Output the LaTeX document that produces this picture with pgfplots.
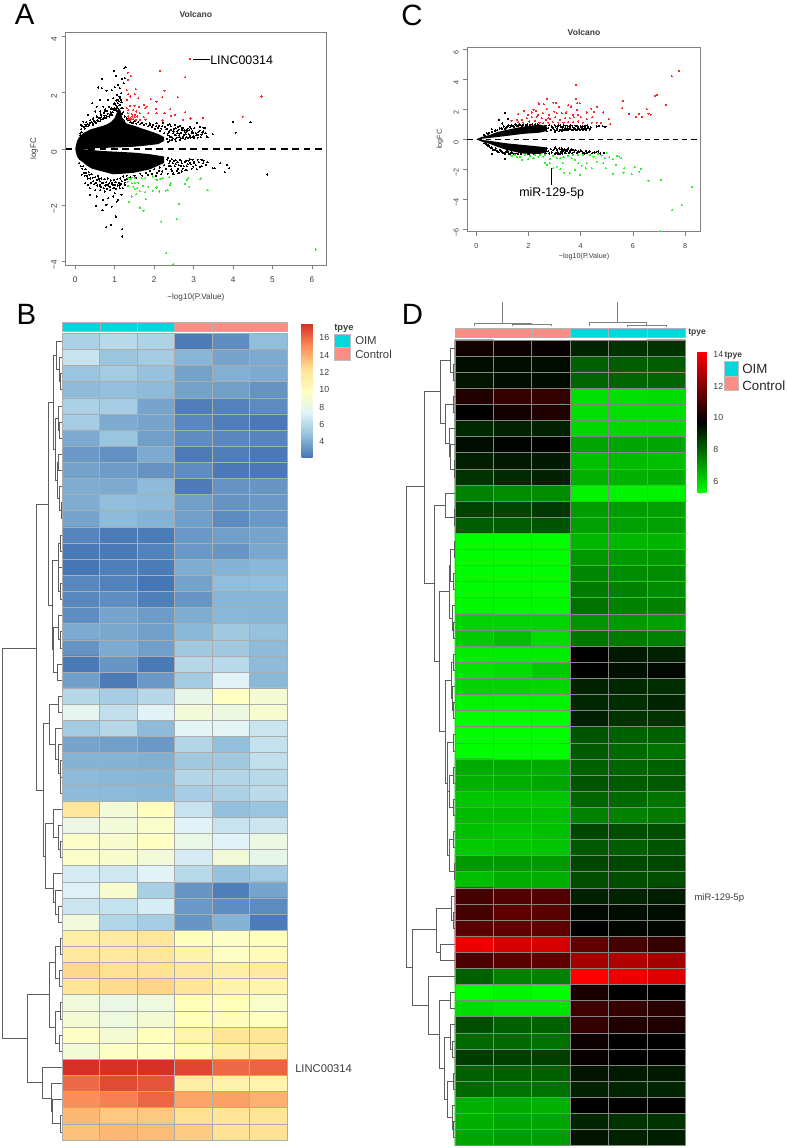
\documentclass[border=0pt]{standalone}
\usepackage{pgfplots}
\usepackage{pgfplotstable}
\pgfplotsset{compat=1.18}
\usepackage{fontspec}
\setmainfont{Liberation Sans}
\newcommand{\fs}[1]{\fontsize{#1}{#1}\selectfont}
\definecolor{oimc}{HTML}{00D8DE}
\definecolor{ctrlc}{HTML}{FA8D84}
\definecolor{framec}{HTML}{808080}
\definecolor{txtc}{HTML}{3C3C3C}
\definecolor{ptred}{HTML}{F52A2A}
\definecolor{ptgreen}{HTML}{2EF02E}
\definecolor{dendc}{HTML}{5E5E5E}
% cell borders of the two heatmaps: rows, then columns, as one line each
\pgfplotstableread[row sep=\\]{x y\\
0.5 0.5\\6.5 0.5\\6.5 1.5\\0.5 1.5\\0.5 2.5\\6.5 2.5\\6.5 3.5\\0.5 3.5\\0.5 4.5\\6.5 4.5\\6.5 5.5\\0.5 5.5\\
0.5 6.5\\6.5 6.5\\6.5 7.5\\0.5 7.5\\0.5 8.5\\6.5 8.5\\6.5 9.5\\0.5 9.5\\0.5 10.5\\6.5 10.5\\6.5 11.5\\0.5 11.5\\
0.5 12.5\\6.5 12.5\\6.5 13.5\\0.5 13.5\\0.5 14.5\\6.5 14.5\\6.5 15.5\\0.5 15.5\\0.5 16.5\\6.5 16.5\\6.5 17.5\\0.5 17.5\\
0.5 18.5\\6.5 18.5\\6.5 19.5\\0.5 19.5\\0.5 20.5\\6.5 20.5\\6.5 21.5\\0.5 21.5\\0.5 22.5\\6.5 22.5\\6.5 23.5\\0.5 23.5\\
0.5 24.5\\6.5 24.5\\6.5 25.5\\0.5 25.5\\0.5 26.5\\6.5 26.5\\6.5 27.5\\0.5 27.5\\0.5 28.5\\6.5 28.5\\6.5 29.5\\0.5 29.5\\
0.5 30.5\\6.5 30.5\\6.5 31.5\\0.5 31.5\\0.5 32.5\\6.5 32.5\\6.5 33.5\\0.5 33.5\\0.5 34.5\\6.5 34.5\\6.5 35.5\\0.5 35.5\\
0.5 36.5\\6.5 36.5\\6.5 37.5\\0.5 37.5\\0.5 38.5\\6.5 38.5\\6.5 39.5\\0.5 39.5\\0.5 40.5\\6.5 40.5\\6.5 41.5\\0.5 41.5\\
0.5 42.5\\6.5 42.5\\6.5 43.5\\0.5 43.5\\0.5 44.5\\6.5 44.5\\6.5 45.5\\0.5 45.5\\0.5 46.5\\6.5 46.5\\6.5 47.5\\0.5 47.5\\
0.5 48.5\\6.5 48.5\\6.5 49.5\\0.5 49.5\\0.5 50.5\\6.5 50.5\\
6.5 0.5\\5.5 0.5\\5.5 50.5\\4.5 50.5\\4.5 0.5\\3.5 0.5\\3.5 50.5\\2.5 50.5\\2.5 0.5\\1.5 0.5\\1.5 50.5\\0.5 50.5\\0.5 0.5\\
}\gridtab
\pgfplotsset{
  colormap={rdylbu}{rgb255=(69,117,180) rgb255=(145,191,219) rgb255=(224,243,248) rgb255=(255,255,191) rgb255=(254,224,144) rgb255=(252,141,89) rgb255=(215,48,39)},
  colormap={gbr}{rgb255=(0,255,0) rgb255=(0,0,0) rgb255=(255,0,0)},
  volcano/.style={
    scale only axis, axis line style={framec,line width=0.7pt},
    tick style={framec,line width=0.5pt}, tick align=outside, major tick length=3pt,
    xtick pos=bottom, ytick pos=left,
    /pgf/number format/assume math mode=true,
    tick label style={font=\fs{6.2},text=txtc},
    xticklabel style={yshift=-2.5pt},
    yticklabel style={rotate=90,anchor=south,xshift=-2.5pt},
    title={\bfseries Volcano}, title style={font=\fs{6.4},text=txtc,anchor=center,yshift=-6pt},
    xlabel={−log10(P.Value)}, ylabel={logFC},
    xlabel style={font=\fs{6.1},text=txtc,anchor=center},
    ylabel style={font=\fs{6.1},text=txtc,anchor=center},
  },
  pts/.style={only marks,mark=*,mark size=0.42pt,color=#1,mark options={solid,fill=#1,draw=#1,line width=0pt}},
  heat/.style={
    scale only axis, enlargelimits=false, clip=false,
    y dir=reverse, xmin=0.5, xmax=6.5, ymin=0.5, ymax=50.5,
    xtick=\empty, ytick=\empty, axis line style={line width=0.5pt,#1},
  },
  bar/.style={
    colorbar style={
      scale only axis, anchor=north west, major tick length=0pt,
      axis line style={draw=none},
      tick label style={font=\fs{6.6},text=txtc},
      /pgf/number format/assume math mode=true,
      yticklabel style={xshift=1.5pt},
      #1
    }
  },
  dendro/.style={
    scale only axis, hide axis, y dir=reverse, ymin=0.5, ymax=50.5, clip=false,
    unbounded coords=jump,
  },
}
\begin{document}
\begin{tikzpicture}
\path[use as bounding box] (0,0) rectangle (590.25pt,861pt);

% ---- A volcano
\begin{axis}[volcano, at={(65.7*0.75pt,{(1148-265)*0.75pt})},
  width={260.3*0.75pt}, height={232.7*0.75pt},
  xmin=-0.243, xmax=6.355, ymin=-4.12, ymax=4.14,
  xtick={0,1,...,6}, ytick={-4,-2,0,2,4}, yticklabels={−4,−2,0,2,4},
  title style={at={(axis description cs:0.5,1.0786)}},
  xlabel style={at={(axis description cs:0.5,-0.1375)}},
  ylabel style={at={(axis description cs:-0.1218,0.5)}},
]
\addplot[fill=black,draw=none] coordinates {(0,0)(0.02,0.15)(0.05,0.3)(0.1,0.42)(0.2,0.56)(0.3,0.63)(0.4,0.7)(0.5,0.74)(0.6,0.78)(0.7,0.82)(0.8,0.87)(0.9,0.95)(1.0,1.1)(1.1,1.45)(1.15,1.35)(1.2,1.05)(1.3,0.9)(1.5,0.82)(1.7,0.72)(1.9,0.63)(2.1,0.53)(2.25,0.42)(2.25,0.28)(2.1,0.17)(1.8,0.12)(1.5,0.08)(1.2,0.06)(0.8,0.04)(0.4,0.02)(0.3,0)} --cycle;
\addplot[fill=black,draw=none] coordinates {(0,0)(0.02,-0.15)(0.05,-0.28)(0.1,-0.38)(0.2,-0.48)(0.3,-0.6)(0.42,-0.7)(0.63,-0.78)(0.96,-0.9)(1.2,-0.88)(1.47,-0.85)(1.9,-0.72)(2.25,-0.5)(2.25,-0.27)(1.9,-0.19)(1.47,-0.13)(0.63,-0.07)(0.3,-0.02)} --cycle;
\addplot[pts=black] coordinates {
(0.99,2.77)(1.24,2.86)(1.28,2.9)(0.68,2.49)(1.19,2.49)(1.03,2.59)(0.58,2.18)(0.67,2.15)(1.26,2.51)(1.23,2.33)(1.09,2.27)(1.0,2.19)
(1.13,2.15)(1.16,1.98)(1.06,1.92)(0.92,2.09)(0.79,2.07)(0.43,1.62)(0.63,1.74)(0.54,1.5)(0.71,1.5)(0.84,1.74)(0.96,1.8)(1.0,1.62)
(1.09,1.74)(1.15,1.74)(1.05,1.5)(1.13,1.56)(1.0,1.38)(0.92,1.44)(0.75,1.33)(0.63,1.33)(0.5,1.33)(0.33,1.21)(0.2,0.97)(0.14,0.85)
(4.0,0.96)(4.44,0.95)(4.07,0.58)(3.48,0.52)(3.29,0.73)(3.09,0.93)(3.16,0.79)(2.91,0.79)(3.02,0.73)(3.24,0.62)(3.33,0.44)(3.12,0.5)
(2.95,0.58)(2.82,0.67)(2.74,0.73)(2.65,0.82)(2.53,0.85)(2.4,0.88)(2.23,0.93)(2.06,0.91)(1.89,0.91)
(0.12,0.55)(0.15,0.7)(0.18,0.8)(0.22,0.78)(0.26,0.85)(0.3,0.88)(0.33,0.8)(0.37,0.92)(0.42,0.95)(0.45,0.85)(0.48,1.0)(0.52,0.92)
(0.56,1.02)(0.6,1.1)(0.63,0.98)(0.66,1.12)(0.7,1.05)(0.74,1.18)(0.78,1.1)(0.82,1.25)(0.86,1.15)(0.9,1.3)(0.93,1.22)(0.96,1.4)
(1.0,1.45)(1.03,1.55)(1.06,1.35)(1.08,1.62)(1.1,1.7)(1.12,1.55)(1.14,1.8)(1.16,1.45)(1.18,1.25)(1.04,1.72)(0.98,1.58)(1.2,1.05)(1.24,0.98)
(1.4,0.95)(1.55,0.9)(1.65,0.88)(1.75,0.85)(1.85,0.8)(1.95,0.78)(2.02,0.72)(2.1,0.75)(2.15,0.65)(2.2,0.8)(2.25,0.55)(2.3,0.7)(2.34,0.48)
(2.38,0.62)(2.42,0.8)(2.45,0.42)(2.48,0.55)(2.5,0.7)(2.53,0.35)(2.55,0.48)(2.58,0.62)(2.6,0.78)(2.63,0.42)(2.66,0.55)(2.7,0.68)(2.72,0.38)
(2.75,0.5)(2.78,0.6)(2.82,0.42)(2.85,0.72)(2.88,0.52)(2.92,0.4)(2.96,0.62)(3.0,0.45)(3.05,0.55)(3.1,0.4)(3.15,0.65)(3.2,0.5)(3.25,0.75)
(3.3,0.55)(3.35,0.42)(2.4,0.3)(2.35,0.25)(2.45,0.32)(2.55,0.28)(2.65,0.33)
(2.33,0.36)(2.36,0.55)(2.4,0.44)(2.43,0.68)(2.47,0.38)(2.49,0.62)(2.52,0.5)(2.54,0.74)(2.57,0.4)(2.59,0.55)(2.62,0.68)(2.64,0.48)(2.67,0.38)
(2.69,0.58)(2.71,0.75)(2.74,0.44)(2.76,0.66)(2.79,0.35)(2.8,0.52)(2.83,0.62)(2.86,0.4)(2.89,0.66)(2.91,0.47)(2.94,0.72)(2.97,0.42)(2.99,0.55)
(3.02,0.38)(3.07,0.48)(3.12,0.6)(3.18,0.42)(3.22,0.58)(2.33,0.72)(2.36,0.85)(2.28,0.78)(2.18,0.72)(2.12,0.82)(2.05,0.8)(1.98,0.85)(1.9,0.85)
(1.8,0.9)(1.7,0.92)(1.6,0.95)(1.5,0.98)(1.35,1.02)(1.45,0.92)(1.3,1.08)(1.25,1.15)(1.22,1.3)(1.2,1.45)(1.17,1.65)(1.12,1.85)(1.08,1.45)
(1.02,1.42)(0.95,1.3)(0.88,1.22)(0.8,1.15)(0.72,1.1)(0.65,1.05)(0.58,0.98)(0.5,0.95)(0.44,0.9)(0.35,0.85)(0.28,0.8)(0.24,0.72)(0.16,0.6)
(0.13,0.48)(0.45,1.08)(0.55,1.15)(0.65,1.22)(0.38,1.02)(0.28,0.95)(0.72,1.28)(0.8,1.35)(0.9,1.42)(0.86,1.5)(0.76,1.4)
(4.87,-0.91)(3.9,-0.69)(3.85,-0.57)(3.67,-0.51)(3.79,-0.83)(3.54,-0.69)(3.48,-0.69)(3.24,-0.51)(3.2,-0.39)(3.16,-0.63)(3.31,-0.57)
(2.91,-0.49)(2.99,-0.63)(2.82,-0.75)(2.7,-0.8)(2.61,-0.86)(2.48,-0.86)
(1.19,-2.85)(1.19,-3.11)(1.03,-2.4)(0.78,-2.78)(0.9,-2.7)(0.52,-2.02)(0.69,-2.17)(0.79,-1.99)(0.92,-2.05)(1.05,-1.87)(1.09,-1.81)
(0.37,-1.63)(0.54,-1.69)(0.71,-1.81)(0.84,-1.75)(0.96,-1.69)(1.0,-1.57)(1.17,-1.63)(0.63,-1.46)(0.75,-1.51)(0.88,-1.46)(1.0,-1.4)
(1.13,-1.4)(0.5,-1.46)(0.37,-1.4)(0.25,-1.22)(0.16,-0.92)(0.33,-1.28)(0.63,-1.28)(0.79,-1.28)(0.96,-1.28)(1.13,-1.22)(1.26,-1.28)
(0.1,-0.5)(0.14,-0.62)(0.18,-0.7)(0.22,-0.85)(0.26,-0.72)(0.3,-0.95)(0.34,-0.82)(0.38,-1.05)(0.42,-0.9)(0.46,-1.15)(0.5,-1.0)(0.54,-1.1)
(0.58,-0.95)(0.62,-1.15)(0.66,-1.05)(0.7,-1.2)(0.74,-1.08)(0.78,-1.18)(0.82,-1.05)(0.86,-1.22)(0.9,-1.12)(0.94,-1.2)(0.98,-1.1)(1.02,-1.18)
(1.06,-1.08)(1.1,-1.2)(1.14,-1.05)(1.18,-1.15)(1.22,-0.98)(1.26,-1.1)(1.3,-0.95)
(1.5,-0.95)(1.65,-0.88)(1.8,-0.85)(1.9,-0.78)(2.0,-0.72)(2.08,-0.85)(2.14,-0.66)(2.2,-0.8)(2.25,-0.58)(2.3,-0.7)(2.34,-0.88)(2.38,-0.5)
(2.42,-0.62)(2.46,-0.78)(2.5,-0.42)(2.55,-0.55)(2.6,-0.7)(2.65,-0.38)(2.7,-0.5)(2.75,-0.62)(2.8,-0.42)(2.85,-0.55)(2.9,-0.36)(2.95,-0.7)
(3.0,-0.45)(3.05,-0.58)(3.1,-0.38)(2.35,-0.32)(2.45,-0.36)
(2.33,-0.38)(2.37,-0.6)(2.4,-0.42)(2.43,-0.72)(2.47,-0.5)(2.49,-0.9)(2.52,-0.62)(2.54,-0.4)(2.57,-0.78)(2.59,-0.48)(2.62,-0.58)(2.64,-0.85)
(2.67,-0.6)(2.69,-0.42)(2.72,-0.7)(2.77,-0.48)(2.79,-0.75)(2.83,-0.62)(2.87,-0.42)(2.93,-0.55)(2.97,-0.38)(3.02,-0.5)(3.08,-0.72)(3.13,-0.48)
(3.2,-0.62)(3.25,-0.42)(3.35,-0.48)(1.4,-1.0)(1.55,-1.02)(1.7,-0.95)(1.85,-0.92)(1.95,-0.88)(2.05,-0.95)(2.12,-0.78)(2.18,-0.9)(0.2,-0.62)
(0.24,-0.95)(0.28,-0.85)(0.32,-1.05)(0.36,-0.92)(0.4,-1.2)(0.44,-1.02)(0.48,-1.25)(0.52,-1.2)(0.56,-1.3)(0.6,-1.05)(0.64,-1.35)(0.68,-1.2)
(0.72,-1.4)(0.76,-1.3)(0.8,-1.42)(0.84,-1.3)(0.88,-1.35)(0.92,-1.25)(0.96,-1.4)(1.0,-1.28)(1.04,-1.42)(1.08,-1.3)(1.12,-1.3)(1.16,-1.25)
(1.2,-1.4)(1.25,-1.2)(1.3,-1.08)
};
\addplot[pts=ptred] coordinates {
(2.91,3.2)(2.15,2.77)(2.79,2.54)(1.33,2.71)(1.34,2.45)(1.41,2.58)(2.26,2.07)(1.53,2.12)(1.3,2.09)(1.34,1.94)(1.51,1.94)(1.39,1.86)
(1.6,1.8)(1.91,1.76)(2.2,1.83)(2.6,1.83)(4.72,1.86)(1.3,1.74)(2.06,1.68)(1.74,1.56)(1.81,1.5)(1.39,1.53)(1.5,1.53)(1.61,1.5)
(1.3,1.44)(1.34,1.38)(1.47,1.38)(1.55,1.33)(1.77,1.44)(2.04,1.42)(2.41,1.41)(1.33,1.27)(1.43,1.23)(1.51,1.21)(1.64,1.27)(1.85,1.27)
(2.06,1.27)(2.26,1.27)(2.79,1.3)(2.53,1.21)(2.43,1.17)(4.24,1.14)(3.24,1.1)(2.92,1.08)(2.74,1.03)(2.21,1.01)(1.34,1.15)(1.4,1.09)
(1.44,1.15)(1.51,1.12)(1.57,1.15)(1.34,1.05)(1.4,1.03)(1.47,1.05)(1.55,1.03)(1.64,1.03)(1.78,1.03)(1.74,1.12)
};
\addplot[pts=ptgreen] coordinates {
(6.1,-3.57)(2.3,-3.7)(2.48,-4.1)(2.57,-2.49)(2.18,-2.58)(2.63,-1.95)(1.64,-2.08)(1.73,-2.2)(1.36,-1.88)(1.43,-1.69)(1.79,-1.79)(1.55,-1.61)
(1.77,-1.54)(1.64,-1.5)(1.96,-1.48)(2.13,-1.51)(2.29,-1.48)(2.34,-1.46)(2.06,-1.37)(1.85,-1.34)(2.4,-1.28)(2.42,-1.22)(2.79,-1.24)(2.89,-1.34)
(2.84,-1.1)(2.86,-1.04)(3.19,-1.04)(3.17,-1.08)(3.35,-1.46)(1.34,-1.02)(1.39,-1.08)(1.43,-1.02)(1.51,-1.04)(1.68,-1.04)(1.77,-1.04)(1.96,-0.98)
(2.06,-1.1)(2.15,-1.07)(2.21,-1.04)(2.38,-1.01)(1.33,-1.16)(1.43,-1.22)(1.51,-1.22)(1.6,-1.2)(1.34,-1.31)(1.47,-1.34)(1.57,-1.4)(1.51,-1.43)(1.72,-1.31)
};
\addplot[black,line width=1.1pt,dash pattern=on 5pt off 3.5pt] coordinates {(-0.243,0)(6.355,0)};
\end{axis}

% ---- C volcano
\begin{axis}[volcano, at={(467.3*0.75pt,{(1148-231.7)*0.75pt})},
  width={233.4*0.75pt}, height={184.7*0.75pt},
  xmin=-0.345, xmax=8.6, ymin=-6.16, ymax=6.15,
  xtick={0,2,4,6,8}, ytick={-6,-4,-2,0,2,4,6}, yticklabels={−6,−4,−2,0,2,4,6},
  tick label style={font=\fs{5.4},text=txtc},
  title style={at={(axis description cs:0.5,1.0774)}},
  xlabel style={font=\fs{5.4},at={(axis description cs:0.5,-0.137)}},
  ylabel style={font=\fs{5.4},at={(axis description cs:-0.117,0.5)}},
]
\addplot[fill=black,draw=none] coordinates {(0,0)(0.2,0.15)(0.52,0.29)(0.8,0.48)(1.16,0.62)(1.5,0.75)(1.8,0.84)(2.2,0.93)(2.44,0.98)(2.7,0.85)(2.7,0.55)(2.44,0.44)(1.8,0.36)(1.16,0.22)(0.52,0.09)(0.2,0.03)} --cycle;
\addplot[fill=black,draw=none] coordinates {(0,0)(0.2,-0.15)(0.52,-0.31)(0.8,-0.5)(1.16,-0.71)(1.5,-0.85)(1.8,-0.95)(2.44,-0.98)(2.7,-0.85)(2.7,-0.55)(2.44,-0.49)(1.8,-0.38)(1.16,-0.27)(0.52,-0.11)(0.2,-0.03)} --cycle;
\addplot[pts=black] coordinates {
(0.3,0.3)(0.4,0.4)(0.5,0.42)(0.6,0.5)(0.7,0.55)(0.8,0.6)(0.9,0.72)(1.0,0.68)(1.05,0.85)(1.15,0.78)(1.25,0.95)(1.3,0.8)(1.4,0.9)(1.5,0.98)(1.6,0.88)(1.7,0.95)(1.8,0.98)(1.9,0.92)
(3.0,0.6)(3.05,0.85)(3.1,0.72)(3.15,0.95)(3.2,0.62)(3.25,0.8)(3.3,0.68)(3.35,0.92)(3.4,0.75)(3.45,0.6)(3.5,0.85)(3.55,0.7)(3.6,0.95)(3.65,0.62)(3.7,0.8)(3.75,0.7)
(3.8,0.9)(3.85,0.62)(3.9,0.78)(3.95,0.68)(4.0,0.88)(4.05,0.72)(4.1,0.62)(4.15,0.8)(4.2,0.7)(4.25,0.92)(4.3,0.75)(4.35,0.65)(4.62,0.85)(4.7,0.9)(4.85,0.88)(4.95,0.82)
(0.6,0.67)(0.87,1.29)(1.11,1.76)(1.23,1.36)(1.0,1.05)
(2.5,0.55)(2.55,0.8)(2.6,0.65)(2.65,0.9)(2.7,0.55)(2.75,0.75)(2.8,0.95)(2.85,0.62)(2.9,0.85)(2.95,0.72)(3.0,0.95)(3.02,0.5)(3.08,0.62)(3.12,0.85)(3.18,0.55)(3.22,0.92)(3.28,0.58)
(3.32,0.8)(3.38,0.62)(3.42,0.9)(3.48,0.72)(3.52,0.6)(3.58,0.82)(3.62,0.68)(3.68,0.9)(3.72,0.6)(3.78,0.75)(3.82,0.65)(3.88,0.85)(3.92,0.72)(3.98,0.6)(4.02,0.78)(4.08,0.85)(4.12,0.7)
(4.18,0.9)(4.22,0.62)(4.28,0.82)(4.38,0.78)(1.95,0.98)(2.05,0.97)(2.15,0.98)(2.25,0.98)(2.35,0.98)(0.45,0.36)(0.75,0.58)(0.95,0.75)(1.1,0.7)(1.2,0.85)(1.35,0.92)(1.45,0.82)(1.55,0.92)
(1.65,0.98)(1.75,0.9)(0.35,0.2)
(0.3,-0.25)(0.4,-0.38)(0.5,-0.48)(0.59,-0.98)(0.55,-0.6)(0.65,-0.7)(0.75,-0.62)(0.85,-0.85)(0.95,-0.78)(1.1,-1.31)(1.05,-0.9)(1.15,-0.82)(1.25,-0.95)(1.35,-0.88)(1.45,-0.98)(1.6,-0.95)
(3.0,-0.62)(3.05,-0.9)(3.1,-0.75)(3.15,-0.98)(3.2,-0.65)(3.25,-0.82)(3.3,-0.95)(3.35,-0.7)(3.4,-0.85)(3.45,-0.72)(3.5,-0.65)(3.55,-0.92)(3.6,-0.75)(3.65,-0.68)(3.75,-0.85)
(3.8,-0.72)(3.9,-0.8)(4.0,-0.75)(4.1,-0.9)(4.2,-0.78)(4.3,-0.85)(4.45,-0.92)(4.6,-0.85)(4.75,-0.95)(4.9,-0.9)
(2.5,-0.6)(2.55,-0.85)(2.6,-0.7)(2.65,-0.95)(2.7,-0.6)(2.75,-0.8)(2.8,-0.95)(2.85,-0.65)(2.9,-0.88)(2.95,-0.72)(3.0,-0.98)(3.02,-0.55)(3.08,-0.68)(3.12,-0.88)(3.18,-0.6)(3.22,-0.95)
(3.28,-0.62)(3.32,-0.78)(3.38,-0.65)(3.42,-0.92)(3.48,-0.8)(3.52,-0.62)(3.58,-0.85)(3.62,-0.72)(3.68,-0.95)(3.72,-0.72)(3.85,-0.9)(3.95,-0.85)(4.05,-0.8)(4.15,-0.95)(4.25,-0.9)(4.35,-0.8)
(4.52,-0.88)(4.68,-0.82)(0.35,-0.28)(0.45,-0.42)(0.6,-0.55)(0.7,-0.72)(0.8,-0.78)(0.9,-0.7)(1.0,-0.88)(1.1,-0.95)(1.2,-0.82)(1.3,-0.98)(1.4,-0.92)(1.5,-0.97)(1.7,-0.98)(2.0,-0.98)(2.2,-0.98)
};
\addplot[pts=ptred] coordinates {
(7.77,4.56)(7.49,4.2)(3.81,3.62)(6.94,2.96)(6.85,2.91)(7.27,2.31)(5.61,2.56)(5.59,2.07)(6.53,2.0)(5.85,1.71)(6.12,1.51)(6.24,1.69)(6.34,1.49)(6.6,1.71)(6.68,1.64)
(3.82,2.69)(3.87,2.4)(3.97,2.4)(2.72,2.69)(2.4,2.38)(2.59,2.33)(2.95,2.44)(3.05,2.44)(3.53,2.27)(3.63,2.18)(3.18,2.16)(4.63,2.16)(4.41,2.04)(3.85,1.96)(2.99,1.84)
(2.19,1.96)(2.28,1.89)(2.12,1.78)(1.83,1.89)(1.61,1.67)(1.99,1.62)(2.54,1.73)(2.7,2.0)(2.8,1.62)(3.08,1.73)(3.27,1.73)(3.44,1.78)(3.69,1.62)(3.91,1.62)(4.23,1.78)
(4.51,1.84)(4.45,1.47)(4.87,1.78)(5.07,1.33)(5.13,1.0)(4.78,1.11)(1.35,1.24)(1.55,1.29)(1.74,1.29)(1.93,1.4)(2.12,1.47)(2.31,1.51)(2.51,1.4)(2.67,1.29)(2.82,1.36)
(3.02,1.47)(3.21,1.29)(3.4,1.4)(3.59,1.4)(3.74,1.47)(4.0,1.47)(4.23,1.33)(1.61,1.13)(1.8,1.11)(2.03,1.18)(2.25,1.24)(2.42,1.11)(2.57,1.07)(2.76,1.11)(2.93,1.13)
(3.14,1.11)(3.34,1.11)(3.53,1.13)(3.72,1.13)(3.91,1.18)(4.08,1.11)(4.42,1.11)(4.61,1.11)(2.76,1.4)(2.35,1.62)
};
\addplot[pts=ptgreen] coordinates {
(8.26,-3.18)(7.87,-4.4)(7.5,-4.73)(7.07,-6.13)(7.08,-2.71)(6.6,-2.76)(6.3,-1.98)(6.25,-2.16)(6.08,-1.87)(5.96,-2.33)(5.67,-1.93)(5.64,-2.22)(5.25,-2.31)(5.34,-1.71)(4.97,-1.93)
(5.55,-1.27)(5.48,-1.16)(5.38,-1.11)(5.23,-1.33)(5.09,-1.2)(5.0,-0.93)(4.93,-1.27)(4.81,-1.09)(4.68,-0.98)(4.61,-1.49)(4.49,-1.16)(4.36,-1.04)(4.23,-1.6)(4.1,-1.04)(3.97,-2.38)
(3.91,-1.6)(4.04,-1.76)(3.78,-1.38)(3.66,-1.27)(3.59,-2.27)(3.78,-2.04)(3.37,-2.22)(3.21,-2.0)(3.31,-1.6)(3.08,-1.82)(2.95,-1.93)(2.82,-1.6)(2.63,-1.56)(2.7,-1.71)(2.82,-1.31)
(3.08,-1.27)(3.34,-1.2)(3.53,-1.11)(2.57,-1.16)(2.38,-1.16)(2.19,-1.27)(1.99,-1.33)(1.74,-1.38)(1.55,-1.2)(1.35,-1.11)(1.48,-1.04)(1.67,-1.16)(1.87,-1.04)(2.06,-1.11)(2.25,-1.04)
(2.44,-1.04)(2.63,-1.04)(2.95,-1.11)(3.21,-1.27)(3.72,-1.04)(3.91,-1.04)(4.87,-1.6)(4.42,-1.93)(4.19,-1.93)
};
\addplot[black,line width=0.9pt,dash pattern=on 4pt off 3pt] coordinates {(-0.345,0)(8.6,0)};
\end{axis}

% ---- B heatmap
\begin{axis}[heat=gray!65, at={(62.3*0.75pt,{(1148-1140)*0.75pt})},
  width={224.7*0.75pt}, height={806.7*0.75pt},
  colormap name=rdylbu, point meta min=2.15, point meta max=17.6,
  colorbar, bar={at={(parent axis.north east)}, xshift=2.5pt, yshift=7pt,
    width=8.25pt, height=100.3pt, ytick={4,6,...,16}},
]
\addplot[matrix plot*,point meta=explicit,mesh/cols=6] coordinates {
(1,1)[5.6] (2,1)[6.0] (3,1)[5.7] (4,1)[2.4] (5,1)[3.0] (6,1)[4.7]
(1,2)[6.5] (2,2)[5.0] (3,2)[5.3] (4,2)[4.4] (5,2)[3.8] (6,2)[4.0]
(1,3)[5.0] (2,3)[5.3] (3,3)[4.9] (4,3)[3.7] (5,3)[4.2] (6,3)[4.0]
(1,4)[4.6] (2,4)[4.8] (3,4)[4.6] (4,4)[3.7] (5,4)[3.6] (6,4)[3.2]
(1,5)[5.6] (2,5)[5.4] (3,5)[3.8] (4,5)[2.5] (5,5)[2.6] (6,5)[2.9]
(1,6)[5.4] (2,6)[4.0] (3,6)[3.8] (4,6)[2.8] (5,6)[2.5] (6,6)[2.3]
(1,7)[4.0] (2,7)[5.0] (3,7)[3.6] (4,7)[3.0] (5,7)[2.8] (6,7)[2.7]
(1,8)[3.4] (2,8)[3.1] (3,8)[4.0] (4,8)[2.4] (5,8)[2.5] (6,8)[2.3]
(1,9)[3.7] (2,9)[3.5] (3,9)[3.2] (4,9)[3.0] (5,9)[2.3] (6,9)[2.3]
(1,10)[4.1] (2,10)[4.0] (3,10)[4.6] (4,10)[2.4] (5,10)[3.2] (6,10)[3.3]
(1,11)[4.1] (2,11)[4.7] (3,11)[4.6] (4,11)[3.6] (5,11)[3.2] (6,11)[3.4]
(1,12)[3.8] (2,12)[4.6] (3,12)[4.3] (4,12)[3.6] (5,12)[2.9] (6,12)[3.4]
(1,13)[2.7] (2,13)[2.4] (3,13)[2.4] (4,13)[3.4] (5,13)[3.6] (6,13)[3.8]
(1,14)[2.3] (2,14)[2.3] (3,14)[2.6] (4,14)[3.4] (5,14)[3.3] (6,14)[3.9]
(1,15)[2.2] (2,15)[2.5] (3,15)[2.4] (4,15)[4.1] (5,15)[4.3] (6,15)[4.5]
(1,16)[2.8] (2,16)[2.6] (3,16)[2.2] (4,16)[3.7] (5,16)[4.7] (6,16)[4.8]
(1,17)[2.8] (2,17)[3.0] (3,17)[2.5] (4,17)[3.3] (5,17)[4.4] (6,17)[4.4]
(1,18)[3.0] (2,18)[3.8] (3,18)[3.5] (4,18)[4.1] (5,18)[4.5] (6,18)[4.4]
(1,19)[4.0] (2,19)[3.9] (3,19)[3.6] (4,19)[4.5] (5,19)[5.2] (6,19)[4.9]
(1,20)[3.2] (2,20)[4.0] (3,20)[3.6] (4,20)[5.2] (5,20)[5.2] (6,20)[4.6]
(1,21)[2.3] (2,21)[3.3] (3,21)[2.3] (4,21)[5.9] (5,21)[6.0] (6,21)[4.6]
(1,22)[3.6] (2,22)[2.4] (3,22)[3.4] (4,22)[5.3] (5,22)[7.4] (6,22)[4.5]
(1,23)[5.9] (2,23)[5.4] (3,23)[5.9] (4,23)[8.0] (5,23)[9.8] (6,23)[9.0]
(1,24)[7.7] (2,24)[6.3] (3,24)[7.4] (4,24)[8.8] (5,24)[8.4] (6,24)[9.2]
(1,25)[5.3] (2,25)[5.9] (3,25)[4.6] (4,25)[7.5] (5,25)[7.5] (6,25)[6.6]
(1,26)[3.8] (2,26)[3.6] (3,26)[3.4] (4,26)[5.8] (5,26)[4.8] (6,26)[6.4]
(1,27)[4.3] (2,27)[4.3] (3,27)[4.2] (4,27)[5.2] (5,27)[5.2] (6,27)[6.3]
(1,28)[4.6] (2,28)[4.5] (3,28)[4.4] (4,28)[5.8] (5,28)[5.8] (6,28)[6.0]
(1,29)[4.6] (2,29)[4.6] (3,29)[4.5] (4,29)[5.4] (5,29)[5.6] (6,29)[6.1]
(1,30)[11.9] (2,30)[8.9] (3,30)[10.0] (4,30)[6.5] (5,30)[4.8] (6,30)[5.0]
(1,31)[8.2] (2,31)[8.8] (3,31)[9.4] (4,31)[7.4] (5,31)[6.5] (6,31)[6.6]
(1,32)[9.5] (2,32)[9.3] (3,32)[9.8] (4,32)[8.1] (5,32)[7.4] (6,32)[8.3]
(1,33)[9.5] (2,33)[9.3] (3,33)[8.7] (4,33)[6.9] (5,33)[8.7] (6,33)[7.9]
(1,34)[6.9] (2,34)[6.7] (3,34)[7.4] (4,34)[6.0] (5,34)[4.9] (6,34)[5.3]
(1,35)[7.2] (2,35)[9.2] (3,35)[5.5] (4,35)[3.3] (5,35)[2.5] (6,35)[3.8]
(1,36)[6.6] (2,36)[6.4] (3,36)[7.0] (4,36)[3.4] (5,36)[3.0] (6,36)[2.9]
(1,37)[8.6] (2,37)[5.8] (3,37)[5.4] (4,37)[3.3] (5,37)[4.3] (6,37)[2.4]
(1,38)[11.3] (2,38)[11.6] (3,38)[11.9] (4,38)[10.0] (5,38)[9.6] (6,38)[10.0]
(1,39)[11.7] (2,39)[11.7] (3,39)[11.9] (4,39)[11.0] (5,39)[9.7] (6,39)[10.1]
(1,40)[12.7] (2,40)[12.3] (3,40)[12.2] (4,40)[11.8] (5,40)[11.2] (6,40)[11.5]
(1,41)[12.0] (2,41)[12.6] (3,41)[12.8] (4,41)[12.0] (5,41)[11.0] (6,41)[10.8]
(1,42)[8.6] (2,42)[8.1] (3,42)[8.5] (4,42)[10.0] (5,42)[10.0] (6,42)[9.4]
(1,43)[9.0] (2,43)[8.5] (3,43)[9.0] (4,43)[10.0] (5,43)[10.1] (6,43)[9.8]
(1,44)[9.7] (2,44)[9.0] (3,44)[10.0] (4,44)[10.8] (5,44)[12.0] (6,44)[12.0]
(1,45)[8.8] (2,45)[9.7] (3,45)[9.7] (4,45)[10.2] (5,45)[11.2] (6,45)[11.6]
(1,46)[17.6] (2,46)[17.6] (3,46)[17.6] (4,46)[17.0] (5,46)[16.0] (6,46)[16.2]
(1,47)[16.0] (2,47)[16.9] (3,47)[16.6] (4,47)[11.3] (5,47)[11.0] (6,47)[10.8]
(1,48)[15.0] (2,48)[15.4] (3,48)[16.1] (4,48)[14.3] (5,48)[14.4] (6,48)[13.9]
(1,49)[13.7] (2,49)[13.2] (3,49)[13.2] (4,49)[12.4] (5,49)[12.0] (6,49)[12.0]
(1,50)[13.4] (2,50)[13.7] (3,50)[13.6] (4,50)[13.1] (5,50)[12.2] (6,50)[12.2]
};
\addplot[gray!65,line width=0.5pt] table {\gridtab};
\end{axis}

% ---- D heatmap
\begin{axis}[heat=gray!95, at={(455*0.75pt,{(1148-1145.7)*0.75pt})},
  width={230.3*0.75pt}, height={805.7*0.75pt},
  colormap name=gbr, point meta min=5.29, point meta max=14.2,
  colorbar, bar={at={(parent axis.north east)}, xshift=0.5pt, yshift=-8.5pt,
    width=7pt, height=106pt, ytick={6,8,...,14}},
]
\addplot[matrix plot*,point meta=explicit,mesh/cols=6] coordinates {
(1,1)[10.05] (2,1)[9.95] (3,1)[9.9] (4,1)[9.1] (5,1)[8.85] (6,1)[8.85]
(1,2)[9.5] (2,2)[9.5] (3,2)[9.5] (4,2)[8.05] (5,2)[8.1] (6,2)[8.1]
(1,3)[9.4] (2,3)[9.5] (3,3)[9.55] (4,3)[8.0] (5,3)[8.0] (6,3)[8.0]
(1,4)[10.3] (2,4)[10.7] (3,4)[10.65] (4,4)[5.85] (5,4)[5.85] (6,4)[5.9]
(1,5)[9.75] (2,5)[10.1] (3,5)[10.3] (4,5)[5.85] (5,5)[5.85] (6,5)[5.85]
(1,6)[9.05] (2,6)[9.15] (3,6)[9.15] (4,6)[5.95] (5,6)[5.95] (6,6)[5.95]
(1,7)[9.5] (2,7)[9.7] (3,7)[9.75] (4,7)[6.85] (5,7)[6.85] (6,7)[6.85]
(1,8)[9.2] (2,8)[9.3] (3,8)[9.3] (4,8)[6.4] (5,8)[6.5] (6,8)[6.4]
(1,9)[8.85] (2,9)[9.0] (3,9)[9.15] (4,9)[6.65] (5,9)[6.65] (6,9)[6.7]
(1,10)[7.5] (2,10)[7.3] (3,10)[7.3] (4,10)[5.5] (5,10)[5.5] (6,10)[5.5]
(1,11)[8.6] (2,11)[8.55] (3,11)[8.75] (4,11)[7.0] (5,11)[7.0] (6,11)[6.95]
(1,12)[8.1] (2,12)[8.1] (3,12)[8.25] (4,12)[6.95] (5,12)[6.95] (6,12)[6.95]
(1,13)[5.3] (2,13)[5.3] (3,13)[5.3] (4,13)[6.55] (5,13)[6.55] (6,13)[6.6]
(1,14)[5.3] (2,14)[5.3] (3,14)[5.3] (4,14)[7.1] (5,14)[7.05] (6,14)[7.05]
(1,15)[5.35] (2,15)[5.3] (3,15)[5.35] (4,15)[7.4] (5,15)[7.3] (6,15)[7.3]
(1,16)[5.35] (2,16)[5.35] (3,16)[5.3] (4,16)[7.6] (5,16)[7.5] (6,16)[7.3]
(1,17)[5.4] (2,17)[5.4] (3,17)[5.4] (4,17)[7.75] (5,17)[7.5] (6,17)[7.5]
(1,18)[6.05] (2,18)[6.05] (3,18)[6.05] (4,18)[7.15] (5,18)[7.05] (6,18)[6.95]
(1,19)[6.2] (2,19)[6.4] (3,19)[5.9] (4,19)[7.7] (5,19)[7.6] (6,19)[7.5]
(1,20)[5.6] (2,20)[5.6] (3,20)[5.6] (4,20)[9.75] (5,20)[9.3] (6,20)[9.15]
(1,21)[5.75] (2,21)[5.9] (3,21)[6.2] (4,21)[9.75] (5,21)[9.45] (6,21)[9.6]
(1,22)[6.05] (2,22)[6.05] (3,22)[5.95] (4,22)[9.15] (5,22)[9.05] (6,22)[8.95]
(1,23)[5.5] (2,23)[5.45] (3,23)[5.5] (4,23)[9.05] (5,23)[8.95] (6,23)[9.1]
(1,24)[5.3] (2,24)[5.3] (3,24)[5.3] (4,24)[9.2] (5,24)[8.85] (6,24)[8.85]
(1,25)[5.3] (2,25)[5.3] (3,25)[5.3] (4,25)[8.25] (5,25)[8.05] (6,25)[8.05]
(1,26)[5.3] (2,26)[5.3] (3,26)[5.3] (4,26)[8.15] (5,26)[7.9] (6,26)[7.75]
(1,27)[6.75] (2,27)[6.75] (3,27)[6.75] (4,27)[8.05] (5,27)[8.0] (6,27)[8.05]
(1,28)[6.65] (2,28)[6.7] (3,28)[6.85] (4,28)[8.25] (5,28)[8.15] (6,28)[8.2]
(1,29)[6.3] (2,29)[6.3] (3,29)[6.3] (4,29)[8.0] (5,29)[7.9] (6,29)[7.75]
(1,30)[6.5] (2,30)[6.5] (3,30)[6.4] (4,30)[7.5] (5,30)[7.5] (6,30)[7.6]
(1,31)[6.4] (2,31)[6.3] (3,31)[6.4] (4,31)[8.55] (5,31)[8.4] (6,31)[8.4]
(1,32)[6.2] (2,32)[6.3] (3,32)[6.3] (4,32)[8.2] (5,32)[8.1] (6,32)[8.25]
(1,33)[7.05] (2,33)[7.05] (3,33)[7.05] (4,33)[8.55] (5,33)[8.5] (6,33)[8.5]
(1,34)[6.4] (2,34)[6.7] (3,34)[6.7] (4,34)[8.4] (5,34)[8.4] (6,34)[8.4]
(1,35)[10.95] (2,35)[11.2] (3,35)[11.2] (4,35)[9.15] (5,35)[9.1] (6,35)[9.2]
(1,36)[10.95] (2,36)[11.4] (3,36)[11.3] (4,36)[9.6] (5,36)[9.5] (6,36)[9.5]
(1,37)[11.3] (2,37)[11.45] (3,37)[11.4] (4,37)[9.75] (5,37)[9.65] (6,37)[9.65]
(1,38)[13.9] (2,38)[13.45] (3,38)[13.5] (4,38)[11.45] (5,38)[10.95] (6,38)[10.65]
(1,39)[11.1] (2,39)[11.3] (3,39)[11.4] (4,39)[12.65] (5,39)[12.85] (6,39)[12.65]
(1,40)[8.05] (2,40)[7.5] (3,40)[7.5] (4,40)[14.2] (5,40)[13.9] (6,40)[13.6]
(1,41)[5.3] (2,41)[5.45] (3,41)[5.3] (4,41)[10.2] (5,41)[9.75] (6,41)[9.75]
(1,42)[5.9] (2,42)[5.75] (3,42)[5.75] (4,42)[10.85] (5,42)[10.65] (6,42)[10.45]
(1,43)[8.4] (2,43)[8.05] (3,43)[8.05] (4,43)[10.65] (5,43)[10.3] (6,43)[10.3]
(1,44)[7.9] (2,44)[7.9] (3,44)[7.75] (4,44)[9.95] (5,44)[9.75] (6,44)[9.75]
(1,45)[8.7] (2,45)[8.65] (3,45)[8.65] (4,45)[9.9] (5,45)[9.75] (6,45)[9.75]
(1,46)[8.05] (2,46)[8.05] (3,46)[8.05] (4,46)[9.4] (5,46)[9.3] (6,46)[9.3]
(1,47)[7.9] (2,47)[7.75] (3,47)[7.75] (4,47)[9.15] (5,47)[9.1] (6,47)[9.1]
(1,48)[6.65] (2,48)[6.75] (3,48)[6.65] (4,48)[9.75] (5,48)[9.75] (6,48)[9.75]
(1,49)[6.7] (2,49)[6.85] (3,49)[6.85] (4,49)[9.1] (5,49)[8.85] (6,49)[8.85]
(1,50)[6.85] (2,50)[7.0] (3,50)[7.0] (4,50)[9.4] (5,50)[9.15] (6,50)[9.2]
};
\addplot[gray!95,line width=0.5pt] table {\gridtab};
\end{axis}

% ---- B row dendrogram, x in pixels, y in rows
\begin{axis}[dendro, at={(0,{(1148-1140)*0.75pt})},
  width={62.3*0.75pt}, height={806.7*0.75pt}, xmin=0, xmax=62.3]
\addplot[dendc,line width=0.6pt] coordinates {
(62.3,3)(60.5,3)(60.5,4)(62.3,4) (nan,nan)
(62.3,2)(59,2)(59,3.5)(60.5,3.5) (nan,nan)
(62.3,1)(56.7,1)(56.7,2.75)(59,2.75) (nan,nan)
(62.3,6)(59.5,6)(59.5,7)(62.3,7) (nan,nan)
(62.3,5)(58.5,5)(58.5,6.5)(59.5,6.5) (nan,nan)
(62.3,8)(58,8)(58,9)(62.3,9) (nan,nan)
(62.3,11)(61,11)(61,12)(62.3,12) (nan,nan)
(62.3,10)(59.5,10)(59.5,11.5)(61,11.5) (nan,nan)
(58,8.5)(57.5,8.5)(57.5,10.75)(59.5,10.75) (nan,nan)
(58.5,5.75)(55.5,5.75)(55.5,9.6)(57.5,9.6) (nan,nan)
(56.7,1.875)(53.3,1.875)(53.3,7.7)(55.5,7.7) (nan,nan)
(62.3,13)(60,13)(60,14)(62.3,14) (nan,nan)
(62.3,16)(60.5,16)(60.5,17)(62.3,17) (nan,nan)
(62.3,15)(58.7,15)(58.7,16.5)(60.5,16.5) (nan,nan)
(60,13.5)(58,13.5)(58,15.75)(58.7,15.75) (nan,nan)
(62.3,19)(60,19)(60,20)(62.3,20) (nan,nan)
(62.3,18)(58.7,18)(58.7,19.5)(60,19.5) (nan,nan)
(62.3,21)(57.3,21)(57.3,22)(62.3,22) (nan,nan)
(58.7,18.75)(53.5,18.75)(53.5,21.5)(57.3,21.5) (nan,nan)
(58,14.6)(52,14.6)(52,20.1)(53.5,20.1) (nan,nan)
(53.3,4.8)(48.3,4.8)(48.3,17.35)(52,17.35) (nan,nan)
(62.3,23)(58.3,23)(58.3,24)(62.3,24) (nan,nan)
(62.3,28)(60.7,28)(60.7,29)(62.3,29) (nan,nan)
(62.3,27)(60,27)(60,28.5)(60.7,28.5) (nan,nan)
(62.3,26)(58,26)(58,27.75)(60,27.75) (nan,nan)
(62.3,25)(55,25)(55,26.9)(58,26.9) (nan,nan)
(58.3,23.5)(49.3,23.5)(49.3,25.95)(55,25.95) (nan,nan)
(62.3,32)(60,32)(60,33)(62.3,33) (nan,nan)
(62.3,31)(58,31)(58,32.5)(60,32.5) (nan,nan)
(62.3,30)(53.5,30)(53.5,31.75)(58,31.75) (nan,nan)
(62.3,36)(58.5,36)(58.5,37)(62.3,37) (nan,nan)
(62.3,35)(55.5,35)(55.5,36.5)(58.5,36.5) (nan,nan)
(62.3,34)(53.3,34)(53.3,35.75)(55.5,35.75) (nan,nan)
(53.5,30.9)(45.7,30.9)(45.7,34.9)(53.3,34.9) (nan,nan)
(49.3,24.7)(43.3,24.7)(43.3,32.9)(45.7,32.9) (nan,nan)
(48.3,11.1)(36.7,11.1)(36.7,28.8)(43.3,28.8) (nan,nan)
(62.3,38)(60.7,38)(60.7,39)(62.3,39) (nan,nan)
(62.3,40)(59.5,40)(59.5,41)(62.3,41) (nan,nan)
(60.7,38.5)(55.5,38.5)(55.5,40.5)(59.5,40.5) (nan,nan)
(62.3,42)(60.7,42)(60.7,43)(62.3,43) (nan,nan)
(62.3,44)(59.5,44)(59.5,45)(62.3,45) (nan,nan)
(60.7,42.5)(55.5,42.5)(55.5,44.5)(59.5,44.5) (nan,nan)
(55.5,39.5)(49,39.5)(49,43.5)(55.5,43.5) (nan,nan)
(62.3,49)(60,49)(60,50)(62.3,50) (nan,nan)
(62.3,48)(52.5,48)(52.5,49.5)(60,49.5) (nan,nan)
(62.3,47)(51.7,47)(51.7,48.75)(52.5,48.75) (nan,nan)
(62.3,46)(42.7,46)(42.7,47.9)(51.7,47.9) (nan,nan)
(49,41.5)(27.7,41.5)(27.7,46.95)(42.7,46.95) (nan,nan)
(36.7,20)(2.7,20)(2.7,44.2)(27.7,44.2)
};
\end{axis}

% ---- D row dendrogram
\begin{axis}[dendro, at={(400*0.75pt,{(1148-1145.7)*0.75pt})},
  width={55*0.75pt}, height={805.7*0.75pt}, xmin=400, xmax=455]
\addplot[dendc,line width=0.6pt] coordinates {
(455,2)(453.3,2)(453.3,3)(455,3) (nan,nan)
(455,1)(450,1)(450,2.5)(453.3,2.5) (nan,nan)
(455,4)(453.3,4)(453.3,5)(455,5) (nan,nan)
(455,8)(454.3,8)(454.3,9)(455,9) (nan,nan)
(455,7)(450,7)(450,8.5)(454.3,8.5) (nan,nan)
(455,6)(449.3,6)(449.3,7.75)(450,7.75) (nan,nan)
(453.3,4.5)(445,4.5)(445,6.9)(449.3,6.9) (nan,nan)
(450,1.75)(440,1.75)(440,5.7)(445,5.7) (nan,nan)
(455,11)(454,11)(454,12)(455,12) (nan,nan)
(455,10)(445.7,10)(445.7,11.5)(454,11.5) (nan,nan)
(455,13)(454,13)(454,14)(455,14) (nan,nan)
(455,15)(453.5,15)(453.5,16)(455,16) (nan,nan)
(454,13.5)(450,13.5)(450,15.5)(453.5,15.5) (nan,nan)
(455,18)(453.5,18)(453.5,19)(455,19) (nan,nan)
(455,17)(452.3,17)(452.3,18.5)(453.5,18.5) (nan,nan)
(450,14.5)(449,14.5)(449,17.75)(452.3,17.75) (nan,nan)
(455,20)(453.3,20)(453.3,21)(455,21) (nan,nan)
(455,23)(453.3,23)(453.3,24)(455,24) (nan,nan)
(455,22)(452,22)(452,23.5)(453.3,23.5) (nan,nan)
(453.3,20.5)(451.7,20.5)(451.7,22.75)(452,22.75) (nan,nan)
(455,25)(453.5,25)(453.5,26)(455,26) (nan,nan)
(455,27)(453.5,27)(453.5,28)(455,28) (nan,nan)
(455,29)(453,29)(453,30)(455,30) (nan,nan)
(453.5,27.5)(449.5,27.5)(449.5,29.5)(453,29.5) (nan,nan)
(455,31)(453.5,31)(453.5,32)(455,32) (nan,nan)
(455,33)(454,33)(454,34)(455,34) (nan,nan)
(453.5,31.5)(449.5,31.5)(449.5,33.5)(454,33.5) (nan,nan)
(449.5,28.5)(447,28.5)(447,32.5)(449.5,32.5) (nan,nan)
(453.5,25.5)(447.3,25.5)(447.3,30.5)(447,30.5) (nan,nan)
(451.7,21.6)(445,21.6)(445,28)(447.3,28) (nan,nan)
(449,16.1)(439.3,16.1)(439.3,24.8)(445,24.8) (nan,nan)
(445.7,10.75)(434.3,10.75)(434.3,20.45)(439.3,20.45) (nan,nan)
(440,3.7)(424.3,3.7)(424.3,15.6)(434.3,15.6) (nan,nan)
(455,36)(453.3,36)(453.3,37)(455,37) (nan,nan)
(455,35)(451,35)(451,36.5)(453.3,36.5) (nan,nan)
(455,38)(440.7,38)(440.7,39)(455,39) (nan,nan)
(451,35.75)(436.7,35.75)(436.7,38.5)(440.7,38.5) (nan,nan)
(455,41)(450.7,41)(450.7,42)(455,42) (nan,nan)
(455,44)(452,44)(452,45)(455,45) (nan,nan)
(455,43)(450,43)(450,44.5)(452,44.5) (nan,nan)
(455,46)(453.5,46)(453.5,47)(455,47) (nan,nan)
(455,49)(453.5,49)(453.5,50)(455,50) (nan,nan)
(455,48)(452,48)(452,49.5)(453.5,49.5) (nan,nan)
(453.5,46.5)(447.7,46.5)(447.7,48.75)(452,48.75) (nan,nan)
(450,43.75)(444.3,43.75)(444.3,47.6)(447.7,47.6) (nan,nan)
(450.7,41.5)(439,41.5)(439,45.7)(444.3,45.7) (nan,nan)
(455,40)(428.3,40)(428.3,43.6)(439,43.6) (nan,nan)
(436.7,37.1)(412.7,37.1)(412.7,41.8)(428.3,41.8) (nan,nan)
(424.3,9.6)(406,9.6)(406,39.45)(412.7,39.45)
};
\end{axis}

% ---- overlay in reference pixel coordinates: annotation bars, legends, texts
\begin{axis}[scale only axis, hide axis, at={(0,0)}, width=590.25pt, height=861pt,
  xmin=0, xmax=787, ymin=0, ymax=1148, y dir=reverse, clip=false, unbounded coords=jump]
% B annotation bar
\addplot[fill=oimc,draw=gray!60,line width=0.4pt] coordinates {(62.3,322.7)(174.7,322.7)(174.7,331.7)(62.3,331.7)} --cycle;
\addplot[fill=ctrlc,draw=gray!60,line width=0.4pt] coordinates {(174.7,322.7)(287,322.7)(287,331.7)(174.7,331.7)} --cycle;
\addplot[gray!60,line width=0.4pt] coordinates {(99.8,322.7)(99.8,331.7) (nan,nan) (137.2,322.7)(137.2,331.7) (nan,nan) (212.1,322.7)(212.1,331.7) (nan,nan) (249.5,322.7)(249.5,331.7)};
% D annotation bar
\addplot[fill=ctrlc,draw=gray!60,line width=0.4pt] coordinates {(455,328)(570.2,328)(570.2,337.7)(455,337.7)} --cycle;
\addplot[fill=oimc,draw=gray!60,line width=0.4pt] coordinates {(570.2,328)(685.3,328)(685.3,337.7)(570.2,337.7)} --cycle;
\addplot[gray!60,line width=0.4pt] coordinates {(493.4,328)(493.4,337.7) (nan,nan) (531.8,328)(531.8,337.7) (nan,nan) (608.6,328)(608.6,337.7) (nan,nan) (647,328)(647,337.7)};
% D column dendrogram
\addplot[framec,line width=0.6pt] coordinates {
(502.7,301.7)(502.7,323.3) (nan,nan)
(474.3,326)(474.3,323.3)(531.7,323.3)(531.7,324.7) (nan,nan)
(512.3,326)(512.3,324.7)(551,324.7)(551,326) (nan,nan)
(617.7,301.7)(617.7,322.7) (nan,nan)
(589.3,326)(589.3,322.7)(646.7,322.7)(646.7,325.7) (nan,nan)
(627.3,326)(627.3,325.7)(666,325.7)(666,326)
};
% legend swatches
\addplot[fill=oimc,draw=gray!50,line width=0.4pt] coordinates {(334,334.3)(350.7,334.3)(350.7,347.3)(334,347.3)} --cycle;
\addplot[fill=ctrlc,draw=gray!50,line width=0.4pt] coordinates {(334,347.3)(350.7,347.3)(350.7,360)(334,360)} --cycle;
\addplot[fill=oimc,draw=gray!50,line width=0.4pt] coordinates {(724.3,361.7)(738.3,361.7)(738.3,376)(724.3,376)} --cycle;
\addplot[fill=ctrlc,draw=gray!50,line width=0.4pt] coordinates {(724.3,376)(738.3,376)(738.3,390)(724.3,390)} --cycle;
% leader lines in the volcano panels
\addplot[black,line width=0.7pt] coordinates {(193,59)(210,59)};
\addplot[black,line width=0.7pt] coordinates {(551,168.3)(551,185)};
% panel letters
\node[font=\fs{22}] at (axis cs:24.6,14.5) {A};
\node[font=\fs{22}] at (axis cs:26.5,314) {B};
\node[font=\fs{22}] at (axis cs:412,15.5) {C};
\node[font=\fs{22}] at (axis cs:412.5,314.5) {D};
% texts
\node[font=\fs{9.3},anchor=west,inner sep=0pt] at (axis cs:210,60) {LINC00314};
\node[font=\fs{9.3},anchor=west,inner sep=0pt] at (axis cs:519,193) {miR-129-5p};
\node[font=\fs{8.4},anchor=west,inner sep=0pt,text=txtc] at (axis cs:295,1068.7) {LINC00314};
\node[font=\fs{7.1},anchor=west,inner sep=0pt,text=txtc] at (axis cs:694.3,897.7) {miR-129-5p};
\node[font=\fs{7}\bfseries,anchor=west,inner sep=0pt,text=txtc] at (axis cs:334,328) {tpye};
\node[font=\fs{8.5},anchor=west,inner sep=0pt,text=txtc] at (axis cs:355,341) {OIM};
\node[font=\fs{8.5},anchor=west,inner sep=0pt,text=txtc] at (axis cs:355,354.7) {Control};
\node[font=\fs{6.4}\bfseries,anchor=west,inner sep=0pt,text=txtc] at (axis cs:688,333) {tpye};
\node[font=\fs{6.4}\bfseries,anchor=west,inner sep=0pt,text=txtc] at (axis cs:724.3,356) {tpye};
\node[font=\fs{10},anchor=west,inner sep=0pt,text=black!85] at (axis cs:742,369.3) {OIM};
\node[font=\fs{10},anchor=west,inner sep=0pt,text=black!85] at (axis cs:742,385.5) {Control};
\end{axis}
\end{tikzpicture}
\end{document}
